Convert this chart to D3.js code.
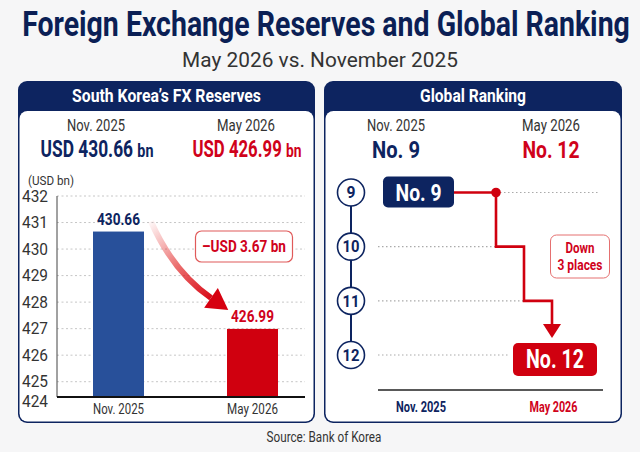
<!DOCTYPE html>
<html><head><meta charset="utf-8">
<script src="https://cdn.jsdelivr.net/npm/d3@7"></script>
<style>
html,body{margin:0;padding:0;background:#f6f6f7;}
svg{display:block;font-family:Roboto,"Noto Sans",sans-serif;}
</style></head>
<body>
<svg id="chart" width="640" height="452"></svg>
<script>
// ---- data ----
const periods = ["Nov. 2025", "May 2026"];
const reserves = [430.66, 426.99];
const reserveLabels = ["USD 430.66", "USD 426.99"];
const yTicks = [424, 425, 426, 427, 428, 429, 430, 431, 432];
const changeLabel = "\u2013USD 3.67 bn";
const ranks = [9, 12];
const rankRows = [9, 10, 11, 12];
const rankChangeLines = ["Down", "3 places"];
const titleText = "Foreign Exchange Reserves and Global Ranking";
const subtitleText = "May 2026 vs. November 2025";
const sourceText = "Source: Bank of Korea";

// ---- styles ----
const NAVY = "#0d2460", RED = "#d0021b", BLUE = "#28509a", GRAY = "#333";

const svg = d3.select("#chart");
// text squeezed horizontally (condensed look) via transform so bounding boxes stay true
function txt(g, s, x, y, o) {
  const t = g.append("text").attr("x", 0).attr("y", 0).text(s)
    .attr("text-anchor", o.anchor || "middle")
    .attr("font-size", o.size).attr("font-weight", o.weight || 400)
    .attr("fill", o.fill || GRAY);
  if (o.dy) t.attr("dy", o.dy);
  let k = o.k || 1;
  if (o.width) k = o.width / t.node().getComputedTextLength();
  t.attr("transform", `translate(${x},${y}) scale(${k},1)`);
  return t;
}

// title
txt(svg, titleText, 326, 36, {size: 35, weight: 700, fill: "#0b1f55", width: 608});
txt(svg, subtitleText, 320, 67, {size: 20, fill: "#333", width: 276});

// panels
function panel(x0, x1, title, tw) {
  const g = svg.append("g");
  g.append("rect").attr("x", x0).attr("y", 81).attr("width", x1 - x0).attr("height", 342)
    .attr("rx", 9).attr("fill", NAVY);
  g.append("rect").attr("x", x0 + 1.5).attr("y", 111).attr("width", x1 - x0 - 3).attr("height", 310.5)
    .attr("rx", 8).attr("fill", "#fff");
  txt(g, title, (x0 + x1) / 2, 102, {size: 18, weight: 700, fill: "#fff", width: tw});
  return g;
}
const L = panel(18, 315, "South Korea\u2019s FX Reserves", 189);
const R = panel(324, 622, "Global Ranking", 106);

// ---- left panel header values ----
const hdrX = [96, 246];
const hdrVX = [97, 247];
periods.forEach((p, i) => {
  txt(L, p, hdrX[i], 131, {size: 16, fill: "#333", width: 58});
  const t = L.append("text").attr("x", 0).attr("y", 0).attr("text-anchor", "middle")
    .attr("font-weight", 700).attr("fill", i === 0 ? NAVY : RED);
  t.append("tspan").attr("font-size", 23).text(reserveLabels[i] + " ");
  t.append("tspan").attr("font-size", 19).text("bn");
  const k = (i === 0 ? 113 : 109) / t.node().getComputedTextLength();
  t.attr("transform", `translate(${hdrVX[i]},157) scale(${k},1)`);
});

// ---- bar chart ----
const axisY = 397, axisX0 = 57, axisX1 = 305;
const y = d3.scaleLinear().domain([425, 432]).range([381.7, 196]);
const x = d3.scalePoint().domain(periods).range([118.5, 252.5]);
const barW = 51;

txt(L, "(USD bn)", 28, 185, {anchor: "start", size: 13, fill: "#333", width: 46});

L.append("g").selectAll("line").data(yTicks.filter(t => t >= 425)).join("line")
  .attr("x1", axisX0).attr("x2", axisX1).attr("y1", d => y(d)).attr("y2", d => y(d))
  .attr("stroke", "#b8b8b8").attr("stroke-width", 0.8).attr("stroke-dasharray", "2,2.5");

yTicks.forEach(t => {
  txt(L, String(t), 48, Math.min(y(t), axisY + 4.5), {anchor: "end", size: 16, fill: "#333", width: 26, dy: "0.36em"});
});

L.append("line").attr("x1", axisX0).attr("x2", axisX0).attr("y1", y(432)).attr("y2", axisY)
  .attr("stroke", "#444").attr("stroke-width", 1);

L.append("g").selectAll("rect").data(reserves).join("rect")
  .attr("x", (d, i) => x(periods[i]) - barW / 2).attr("width", barW)
  .attr("y", d => y(d)).attr("height", d => axisY - y(d))
  .attr("fill", (d, i) => i === 0 ? BLUE : "#d0000f");

L.append("line").attr("x1", axisX0).attr("x2", axisX1).attr("y1", axisY).attr("y2", axisY)
  .attr("stroke", "#111").attr("stroke-width", 2);

reserves.forEach((v, i) => {
  txt(L, v.toFixed(2), x(periods[i]), y(v) - 7, {size: 17, weight: 700, fill: i === 0 ? NAVY : RED, width: 43});
  txt(L, periods[i], x(periods[i]), 414, {size: 15, fill: "#333", width: 51});
});

// curved arrow
const defs = svg.append("defs");
const grad = defs.append("linearGradient").attr("id", "arrGrad")
  .attr("gradientUnits", "userSpaceOnUse")
  .attr("x1", 152).attr("y1", 222).attr("x2", 215).attr("y2", 300);
grad.append("stop").attr("offset", 0).attr("stop-color", "#e63030").attr("stop-opacity", 0.05);
grad.append("stop").attr("offset", 0.5).attr("stop-color", "#e02020").attr("stop-opacity", 0.65);
grad.append("stop").attr("offset", 1).attr("stop-color", "#d60010").attr("stop-opacity", 1);

const sx = x(periods[0]) + barW / 2 + 7, sy = y(reserves[0]) - 10;
const ex = x(periods[1]) - barW / 2 - 16, ey = y(reserves[1]) - 31;
const cx = sx + 22, cy = sy + 50;
L.append("path").attr("d", `M${sx},${sy} Q${cx},${cy} ${ex},${ey}`)
  .attr("fill", "none").attr("stroke", "url(#arrGrad)").attr("stroke-width", 6);
// arrowhead along tangent
const ang = Math.atan2(ey - cy, ex - cx);
const tipL = 21, halfW = 12;
const tip = [ex + Math.cos(ang) * tipL, ey + Math.sin(ang) * tipL];
const b1 = [ex + Math.cos(ang + Math.PI / 2) * halfW, ey + Math.sin(ang + Math.PI / 2) * halfW];
const b2 = [ex - Math.cos(ang + Math.PI / 2) * halfW, ey - Math.sin(ang + Math.PI / 2) * halfW];
L.append("path").attr("d", `M${tip}L${b1}L${b2}Z`).attr("fill", "#d60010");

// change callout
L.append("rect").attr("x", 195.5).attr("y", 231).attr("width", 97).attr("height", 31).attr("rx", 6)
  .attr("fill", "#fff").attr("stroke", "#e05a5a").attr("stroke-width", 1.2);
txt(L, changeLabel, 244, 252, {size: 17, weight: 700, fill: RED, width: 84});

// ---- right panel ----
const rx = [396, 551];
ranks.forEach((r, i) => {
  txt(R, periods[i], rx[i], 131, {size: 16, fill: "#333", width: 58});
  txt(R, "No. " + r, rx[i], 157.5, {size: 23, weight: 700, fill: i === 0 ? NAVY : RED, width: i === 0 ? 48 : 57});
});

const ry = d3.scaleLinear().domain([9, 12]).range([192.5, 355]);
const circX = 351, circR = 13.5;

// dotted row lines
const dotStart = 378;
const stepX = [496, 524, 552];
const rowEnds = {9: [500, 599], 10: [dotStart, stepX[0]], 11: [dotStart, stepX[1]], 12: [dotStart, 509]};
R.append("g").selectAll("line").data(rankRows).join("line")
  .attr("x1", d => rowEnds[d][0]).attr("x2", d => rowEnds[d][1])
  .attr("y1", d => ry(d)).attr("y2", d => ry(d))
  .attr("stroke", "#aaa").attr("stroke-width", 1.1).attr("stroke-dasharray", "1.5,2.5");

R.append("line").attr("x1", circX).attr("x2", circX).attr("y1", ry(9)).attr("y2", ry(12))
  .attr("stroke", NAVY).attr("stroke-width", 2);
rankRows.forEach(d => {
  R.append("circle").attr("cx", circX).attr("cy", ry(d)).attr("r", circR)
    .attr("fill", "#fff").attr("stroke", NAVY).attr("stroke-width", 1.6);
  txt(R, String(d), circX, ry(d), {size: 16, weight: 700, fill: NAVY, width: d < 10 ? 9 : 17, dy: "0.36em"});
});

// step line
const stepPts = [
  [454, ry(9)], [stepX[0], ry(9)], [stepX[0], ry(10)], [stepX[1], ry(10)],
  [stepX[1], ry(11)], [stepX[2], ry(11)], [stepX[2], ry(12) - 29]
];
R.append("path").attr("d", d3.line()(stepPts)).attr("fill", "none")
  .attr("stroke", "#d0000f").attr("stroke-width", 2.6).attr("stroke-linejoin", "miter");
R.append("circle").attr("cx", stepX[0]).attr("cy", ry(9)).attr("r", 4.8).attr("fill", "#d0000f");
R.append("path").attr("d", `M${stepX[2] - 9},${ry(12) - 31}L${stepX[2] + 9},${ry(12) - 31}L${stepX[2]},${ry(12) - 17}Z`)
  .attr("fill", "#d0000f");

// rank boxes
R.append("rect").attr("x", 383).attr("y", ry(9) - 16).attr("width", 71).attr("height", 31).attr("rx", 5).attr("fill", NAVY);
txt(R, "No. " + ranks[0], 418.5, ry(9) + 8, {size: 23, weight: 700, fill: "#fff", width: 46});
R.append("rect").attr("x", 513).attr("y", ry(12) - 12).attr("width", 84).attr("height", 33).attr("rx", 5).attr("fill", "#d0000f");
txt(R, "No. " + ranks[1], 555, ry(12) + 13, {size: 25, weight: 700, fill: "#fff", width: 58});

// down box
R.append("rect").attr("x", 550.5).attr("y", 235).attr("width", 59).attr("height", 43).attr("rx", 6)
  .attr("fill", "#fff").attr("stroke", "#e57070").attr("stroke-width", 1);
txt(R, rankChangeLines[0], 580, 253, {size: 14, weight: 700, fill: RED, width: 29});
txt(R, rankChangeLines[1], 580, 270, {size: 14, weight: 700, fill: RED, width: 45});

// bottom axis
R.append("line").attr("x1", 378).attr("x2", 603).attr("y1", 390).attr("y2", 390)
  .attr("stroke", "#222").attr("stroke-width", 1.6);
txt(R, periods[0], 421, 412, {size: 15, weight: 700, fill: NAVY, width: 50});
txt(R, periods[1], 553.5, 412, {size: 15, weight: 700, fill: RED, width: 48});

// source
txt(svg, sourceText, 324, 442, {size: 14, fill: "#333", width: 115});
</script>
</body></html>
